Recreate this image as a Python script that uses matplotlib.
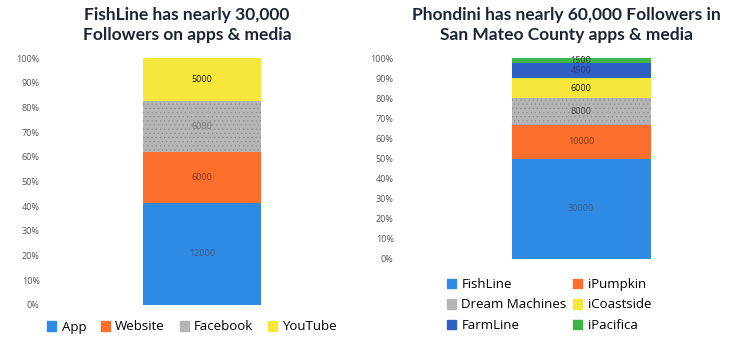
import matplotlib
matplotlib.use("Agg")
import matplotlib.pyplot as plt
from matplotlib.patches import Patch

# ---- data ----
left_title = "FishLine has nearly 30,000\nFollowers on apps & media"
left_cats = ["App", "Website", "Facebook", "YouTube"]
left_vals = [12000, 6000, 6000, 5000]
left_colors = ["#2f8ae3", "#fb6e2c", "#b5b5b5", "#f6e73c"]

right_title = "Phondini has nearly 60,000 Followers in\nSan Mateo County apps & media"
right_cats = ["FishLine", "iPumpkin", "Dream Machines", "iCoastside", "FarmLine", "iPacifica"]
right_vals = [30000, 10000, 8000, 6000, 4500, 1500]
right_colors = ["#2f8ae3", "#fb6e2c", "#b5b5b5", "#f6e73c", "#2d5fc4", "#3cb54a"]

tick_labels = ["0%", "10%", "20%", "30%", "40%", "50%", "60%", "70%", "80%", "90%", "100%"]

W, H = 733, 340
fig = plt.figure(figsize=(W / 100, H / 100), dpi=100)


def px_axes(x0, y0, x1, y1):
    return fig.add_axes([x0 / W, 1 - y1 / H, (x1 - x0) / W, (y1 - y0) / H])


def draw(ax, vals, colors, width, xlim, label_colors):
    total = sum(vals)
    bottom = 0.0
    for v, c, lc in zip(vals, colors, label_colors):
        frac = v / total
        hatch = "...." if c == "#b5b5b5" else None
        ax.bar(0, frac, width, bottom=bottom, color=c, edgecolor="#8a8a8a" if hatch else c,
               linewidth=0, hatch=hatch)
        ax.text(0, bottom + frac / 2, str(v), ha="center", va="center",
                fontsize=6.5, color=lc, family="Open Sans")
        bottom += frac
    ax.set_xlim(*xlim)
    ax.set_ylim(0, 1)
    ax.set_yticks([i / 10 for i in range(11)])
    ax.set_yticklabels(tick_labels, fontsize=6.5, color="#555555", family="Open Sans")
    ax.set_xticks([])
    ax.tick_params(axis="y", length=0, pad=6)
    for s in ax.spines.values():
        s.set_visible(False)
    ax.patch.set_alpha(0)


plt.rcParams["hatch.color"] = "#7a7a7a"
plt.rcParams["hatch.linewidth"] = 0.4

axL = px_axes(48, 58, 356, 305)
draw(axL, left_vals, left_colors, 0.386, (-0.5, 0.5),
     ["#3a5a8a", "#7a3a20", "#777777", "#222222"])

axR = px_axes(402, 58, 733, 259)
draw(axR, right_vals, right_colors, 0.42, (-0.541, 0.459),
     ["#3a5a8a", "#7a3a20", "#444444", "#222222", "#2a3f7a", "#333333"])

fig.text(187 / W, 1 - 25 / H, left_title, ha="center", va="center", fontsize=12.5,
         fontweight="bold", family="Lato", color="#1c2533", linespacing=1.35)
fig.text(566 / W, 1 - 25 / H, right_title, ha="center", va="center", fontsize=12.5,
         fontweight="bold", family="Lato", color="#1c2533", linespacing=1.35)


def handle(c):
    return Patch(facecolor=c, edgecolor=c, hatch="...." if c == "#b5b5b5" else None)


hL = [handle(c) for c in left_colors]
fig.legend(hL, left_cats, loc="center", bbox_to_anchor=(192 / W, 1 - 327 / H),
           ncol=4, frameon=False, prop={"family": "Open Sans", "size": 9.5},
           handlelength=0.7, handleheight=0.7, handletextpad=0.4, columnspacing=1.1)

# legend filled row-wise like the reference (matplotlib fills column-wise)
order = [0, 2, 4, 1, 3, 5]
hR = [handle(right_colors[i]) for i in order]
lR = [right_cats[i] for i in order]
fig.legend(hR, lR, loc="center", bbox_to_anchor=(549 / W, 1 - 305 / H),
           ncol=2, frameon=False, prop={"family": "Open Sans", "size": 9.5},
           handlelength=0.7, handleheight=0.7, handletextpad=0.4, columnspacing=0.5,
           labelspacing=0.55)

fig.savefig("out.png", dpi=100)
